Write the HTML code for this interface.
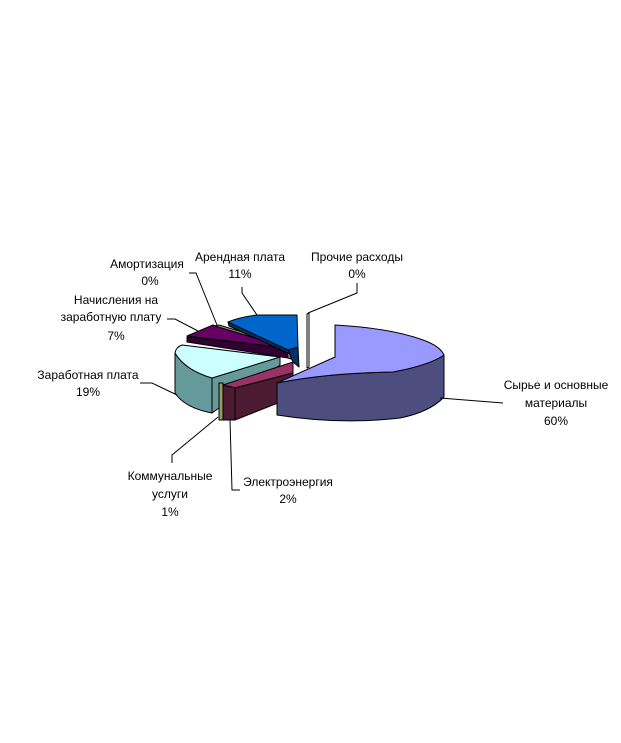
<!DOCTYPE html>
<html><head><meta charset="utf-8"><style>
html,body{margin:0;padding:0;background:#fff;}
svg{display:block;}
text{font-family:"Liberation Sans",Arial,sans-serif;font-size:12px;fill:#000;}
</style></head><body>
<svg width="621" height="743" viewBox="0 0 621 743" xmlns="http://www.w3.org/2000/svg">
<g stroke="#000" stroke-width="1" stroke-linejoin="round">
<!-- Zarabotnaya plata (cyan) -->
<path d="M175,353 L175,393 Q185,408 212,413 L212,378 Q185,370 175,353 Z" fill="#669999"/>
<path d="M212,378 L280,357 L280,365 L212,413 Z" fill="#669999"/>
<path d="M175,353 Q176,347 182,345 L280,357 L212,378 Q185,370 175,353 Z" fill="#ccffff"/>
<!-- Nachisleniya (purple) -->
<path d="M187,337 L187,342 L288,358 L287,348 Z" fill="#330033"/>
<path d="M187,336 L213,325 L287,348 Z" fill="#660066"/>
<path d="M287,348 L290,349 L291,359 L288,358 Z" fill="#cc6699"/>
<!-- Amortizatsiya -->
<path d="M215,326 L219,325 L292,347 L289,348 Z" fill="#999966"/>
<!-- Arenda (blue) -->
<path d="M228,322 L288,350 L290,354 L229,326 Z" fill="#003366"/>
<path d="M288,350 L298,347 L299,367 L293,362 Z" fill="#003366"/>
<path d="M228,322 Q240,317 257,315 L297,315 L298,347 L288,350 Z" fill="#0066cc"/>
<!-- Prochie -->
<path d="M307,314 L309,313 L309,367 L307,368 Z" fill="#fff"/>
<!-- Kommunalnye -->
<path d="M219,383 L223,383 L223,420 L219,420 Z" fill="#999966"/>
<!-- Elektro -->
<path d="M223,385 L293,362 L293,373 L235,388 Z" fill="#993366"/>
<path d="M223,385 L235,388 L235,420 L223,420 Z" fill="#4d1a33"/>
<path d="M235,388 L293,373 L293,397 L235,420 Z" fill="#4d1a33"/>
<!-- Syrye (big) -->
<path d="M277,383 Q327,373 393,372 Q430,365 444,355 L444,397 Q430,412 400,418 Q340,425 277,415 Z" fill="#4d4d80"/>
<path d="M277,383 L335,357 L335,325 Q390,328 423,340 Q440,346 444,355 Q430,365 393,372 Q327,373 277,383 Z" fill="#9999ff"/>
</g>
<g stroke="#000" stroke-width="1" fill="none">
<polyline points="189,273 196,273 217,325"/>
<polyline points="242,287 242,293 257,315"/>
<polyline points="357,283 357,293 308,313"/>
<polyline points="167,319 175,319 198,331"/>
<polyline points="140,383 152,383 177,395"/>
<polyline points="503,403 440,398"/>
<polyline points="172,463 172,455 218,417"/>
<polyline points="240,490 232,490 230,420"/>
</g>
<g text-anchor="middle">
<text x="147" y="268">Амортизация</text>
<text x="150" y="285">0%</text>
<text x="240" y="261">Арендная плата</text>
<text x="240" y="278">11%</text>
<text x="357" y="261">Прочие расходы</text>
<text x="357" y="278">0%</text>
<text x="116" y="304">Начисления на</text>
<text x="111" y="321">заработную плату</text>
<text x="116" y="340">7%</text>
<text x="88" y="379">Заработная плата</text>
<text x="88" y="396">19%</text>
<text x="556" y="389">Сырье и основные</text>
<text x="556" y="407">материалы</text>
<text x="556" y="425">60%</text>
<text x="170" y="480">Коммунальные</text>
<text x="170" y="498">услуги</text>
<text x="170" y="516">1%</text>
<text x="288" y="486">Электроэнергия</text>
<text x="288" y="503">2%</text>
</g>
</svg>
</body></html>
